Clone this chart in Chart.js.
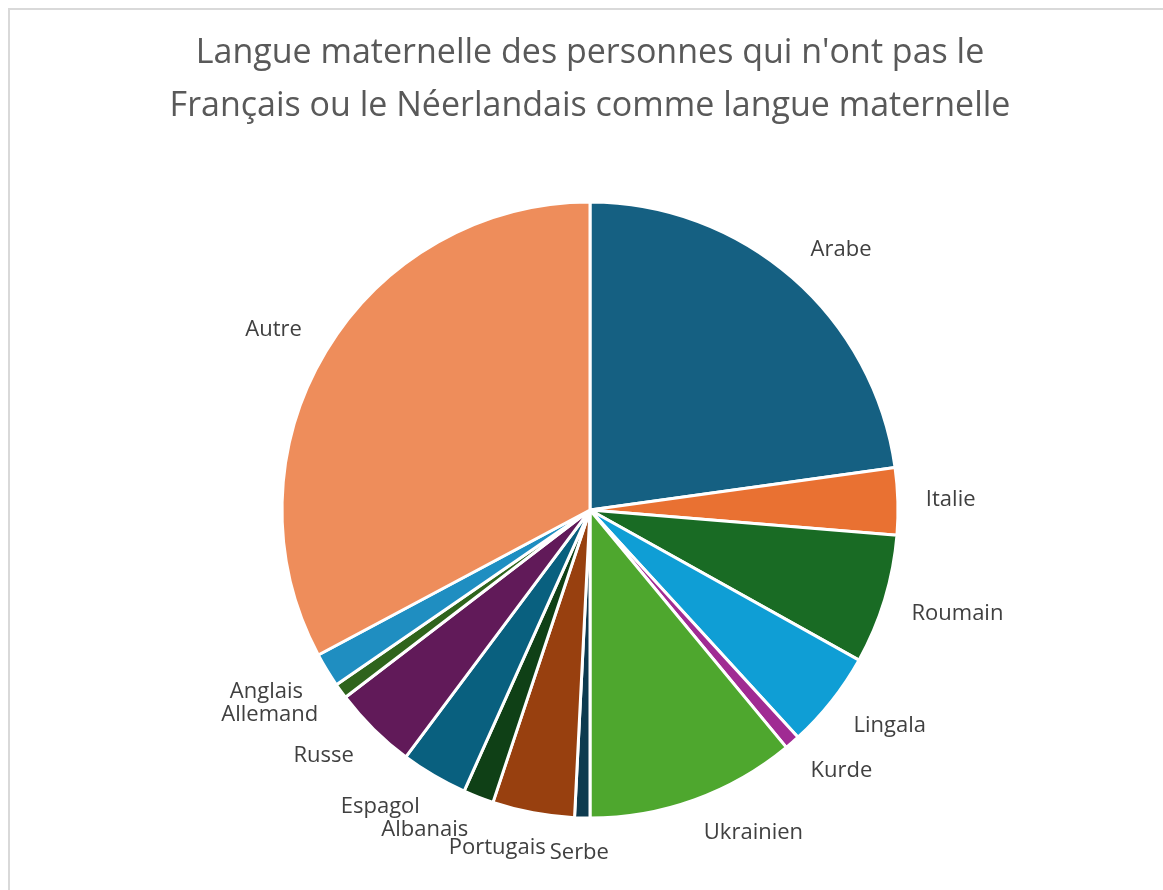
<!DOCTYPE html>
<html>
<head>
<meta charset="utf-8">
<script src="https://cdn.jsdelivr.net/npm/chart.js@4"></script>
<style>
  html, body { margin: 0; padding: 0; background: #ffffff; }
  #wrap { position: relative; width: 1163px; height: 890px; overflow: hidden; }
  #frame { position: absolute; left: 8px; top: 8px; width: 1200px; height: 950px;
           border: 2px solid #d9d9d9; box-sizing: border-box; pointer-events: none; }
  canvas { position: absolute; left: 0; top: 0; }
</style>
</head>
<body>
<div id="wrap">
  <div id="frame"></div>
  <canvas id="pie" width="1163" height="890"></canvas>
</div>
<script>
"use strict";
// langues (sens horaire depuis midi) et parts en %
var langues = ["Arabe", "Italie", "Roumain", "Lingala", "Kurde", "Ukrainien", "Serbe",
  "Portugais", "Albanais", "Espagol", "Russe", "Allemand", "Anglais", "Autre"];
var parts = [22.8, 3.5, 6.8, 5.1, 0.8, 11.0, 0.8, 4.3, 1.6, 3.5, 4.4, 0.8, 1.8, 32.8];
var couleurs = ["#156082", "#E97132", "#196B24", "#0F9ED5", "#A02B93", "#4EA72E", "#0D3A4F",
  "#98400F", "#0F4016", "#09607F", "#611A59", "#2F641C", "#1F8EC1", "#EE8D5B"];
var titre = ["Langue maternelle des personnes qui n'ont pas le",
  "Français ou le Néerlandais comme langue maternelle"];

function clamp(v) { return Math.max(-1, Math.min(1, v)); }

// étiquettes à l'extérieur, façon Excel
var labelsPlugin = {
  id: "outLabels",
  afterDatasetsDraw: function (chart) {
    var ctx = chart.ctx, meta = chart.getDatasetMeta(0), gap = 28;
    ctx.save();
    ctx.font = "22px 'Open Sans'";
    ctx.fillStyle = "#404040";
    ctx.textAlign = "center";
    ctx.textBaseline = "middle";
    var boxes = [];
    meta.data.forEach(function (arc, i) {
      var p = arc.getProps(["x", "y", "startAngle", "endAngle", "outerRadius"], true);
      var a = (p.startAngle + p.endAngle) / 2;
      var c = Math.cos(a), s = Math.sin(a);
      var w = ctx.measureText(langues[i]).width, h = 16;
      var b = {
        x: p.x + (p.outerRadius + gap) * c + w / 2 * clamp(3 * c),
        y: p.y + (p.outerRadius + gap) * s + 7 * clamp(3 * s),
        w: w, h: h
      };
      var dir = c < 0 ? -1 : 1;
      for (var k = 0; k < 40; k++) {
        var hit = boxes.some(function (o) {
          return Math.abs(o.x - b.x) < (o.w + b.w) / 2 + 2 && Math.abs(o.y - b.y) < (o.h + b.h) / 2;
        });
        if (!hit) break;
        b.x += dir * 4;
      }
      boxes.push(b);
      ctx.fillText(langues[i], b.x, b.y);
    });
    ctx.restore();
  }
};

new Chart(document.getElementById("pie"), {
  type: "pie",
  data: {
    labels: langues,
    datasets: [{
      data: parts,
      backgroundColor: couleurs,
      borderColor: "#ffffff",
      borderWidth: 3
    }]
  },
  options: {
    responsive: false,
    animation: false,
    radius: 308,
    layout: { padding: { left: 17, right: 0, top: 0, bottom: 3 } },
    plugins: {
      legend: { display: false },
      tooltip: { enabled: false },
      title: {
        display: true,
        text: titre,
        color: "#595959",
        font: { family: "'Open Sans'", size: 34, weight: "normal", lineHeight: 1.56 },
        padding: { top: 27, bottom: 0 }
      }
    }
  },
  plugins: [labelsPlugin]
});
</script>
</body>
</html>
